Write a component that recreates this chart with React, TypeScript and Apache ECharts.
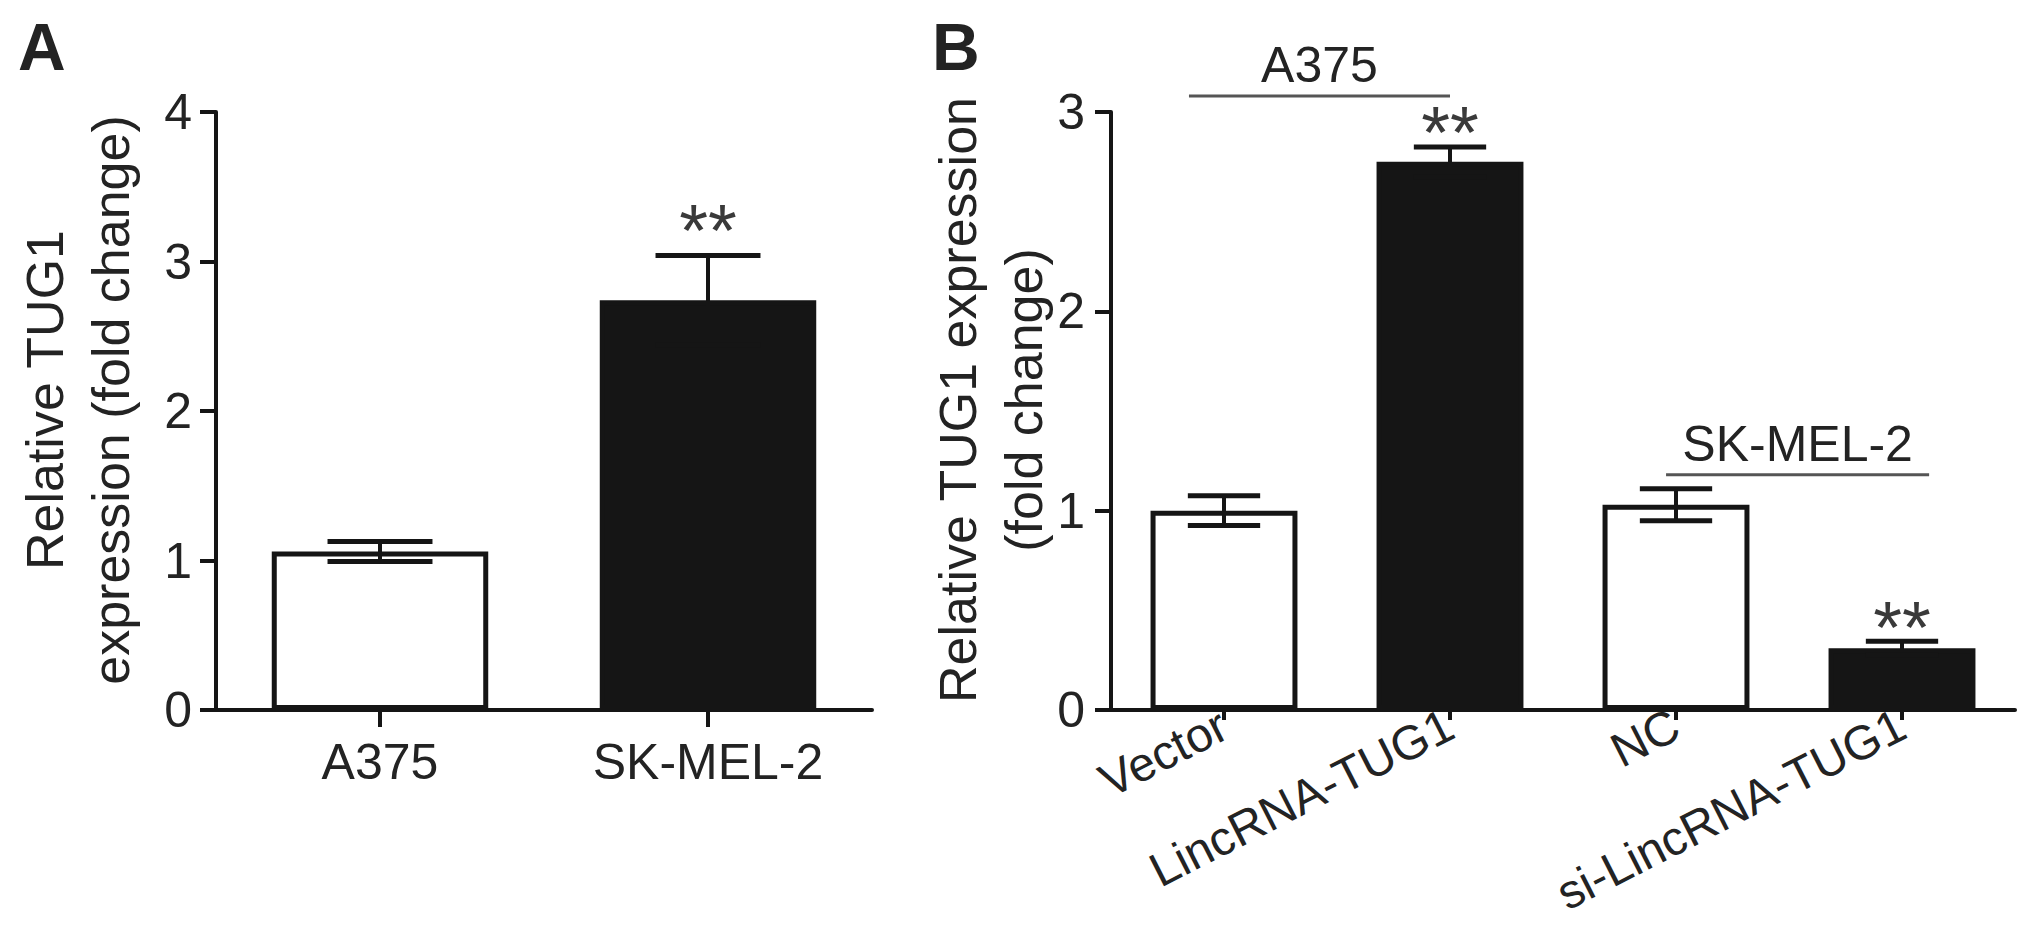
import React, { useEffect, useRef } from 'react';
import * as echarts from 'echarts';

// ---------- data ----------
const categoriesA = ['A375', 'SK-MEL-2'];
const meansA = [1.06, 2.74];
const errorsA = [0.067, 0.3];
const signifA = ['', '**'];

const categoriesB = ['Vector', 'LincRNA-TUG1', 'NC', 'si-LincRNA-TUG1'];
const meansB = [1.0, 2.75, 1.03, 0.31];
const errorsB = [0.075, 0.075, 0.08, 0.035];
const signifB = ['', '**', '', '**'];

const groupLabels = ['A375', 'SK-MEL-2'];
const groupStart = [0, 2];
const groupEnd = [1, 3];
const groupLevels = [3.08, 1.18];

const yMaxA = 4;
const yMaxB = 3;
const yInterval = 1;

const titleA = 'Relative TUG1\nexpression (fold change)';
const titleB = 'Relative TUG1 expression\n(fold change)';

// ---------- style ----------
const FONT = "'Liberation Sans', Arial, Helvetica, sans-serif";
const INK = '#151515';
const TEXT = '#232323';
// bracket offsets in fractions of a category band (start, end)
const bracketOffsets = [
  [-0.155, 0.0],
  [-0.044, 0.12],
];

export default function App() {
  const ref = useRef<HTMLDivElement>(null);

  useEffect(() => {
    const chart = echarts.init(ref.current as HTMLDivElement, null, { renderer: 'svg' });

    const makeErr = (signif: string[], sigLift: number) => (params: any, api: any) => {
      const x = api.value(0);
      const m = api.value(1);
      const e = api.value(2);
      const top = api.coord([x, m + e]);
      const bot = api.coord([x, m - e]);
      const band = api.size([1, 0])[0];
      const hw = band * 0.16;
      const st = { stroke: INK, lineWidth: 5 };
      const children: any[] = [
        { type: 'line', shape: { x1: top[0], y1: top[1], x2: bot[0], y2: bot[1] }, style: { stroke: INK, lineWidth: 4 } },
        { type: 'line', shape: { x1: top[0] - hw, y1: top[1], x2: top[0] + hw, y2: top[1] }, style: st },
        { type: 'line', shape: { x1: bot[0] - hw, y1: bot[1], x2: bot[0] + hw, y2: bot[1] }, style: st },
      ];
      const s = signif[params.dataIndex];
      if (s) {
        children.push({
          type: 'text',
          x: top[0],
          y: top[1] - sigLift,
          style: { text: s, fontSize: 74, fontFamily: FONT, fill: '#3a3a3a', align: 'center', verticalAlign: 'middle' },
        });
      }
      return { type: 'group', children };
    };

    const bracketRender = (params: any, api: any) => {
      const i = params.dataIndex;
      const p1 = api.coord([api.value(0), api.value(2)]);
      const p2 = api.coord([api.value(1), api.value(2)]);
      const band = api.size([1, 0])[0];
      const x1 = p1[0] + bracketOffsets[i][0] * band;
      const x2 = p2[0] + bracketOffsets[i][1] * band;
      return {
        type: 'group',
        children: [
          { type: 'line', shape: { x1, y1: p1[1], x2, y2: p1[1] }, style: { stroke: '#555', lineWidth: 3 } },
          {
            type: 'text',
            x: (x1 + x2) / 2,
            y: p1[1] - 6,
            style: { text: groupLabels[i], fontSize: 50, fontFamily: FONT, fill: TEXT, align: 'center', verticalAlign: 'bottom' },
          },
        ],
      };
    };

    const axisLine = { show: true, lineStyle: { color: INK, width: 4 } };
    const axisTick = (len: number) => ({ show: true, length: len, lineStyle: { color: INK, width: 4 } });

    const yAxisCommon = (max: number, name: string, nameGap: number, labelMargin: number) => ({
      type: 'value',
      min: 0,
      max,
      interval: yInterval,
      axisLine,
      axisTick: axisTick(16),
      splitLine: { show: false },
      axisLabel: { fontSize: 50, fontFamily: FONT, color: TEXT, margin: labelMargin },
      name,
      nameLocation: 'middle',
      nameGap,
      nameRotate: 90,
      nameMoveOverlap: false,
      nameTextStyle: { fontSize: 52, fontFamily: FONT, color: TEXT, lineHeight: 66, align: 'center', padding: [0, 0, 0, 22] },
    });

    const barData = (vals: number[]) =>
      vals.map((v, i) => ({ value: v, itemStyle: { color: i % 2 === 1 ? INK : '#ffffff' } }));

    chart.setOption({
      animation: false,
      backgroundColor: '#ffffff',
      grid: [
        { left: 216, top: 112, width: 656, height: 598, outerBoundsMode: 'none', containLabel: false },
        { left: 1111, top: 112, width: 904, height: 598, outerBoundsMode: 'none', containLabel: false },
      ],
      xAxis: [
        {
          type: 'category',
          gridIndex: 0,
          data: categoriesA,
          axisLine,
          axisTick: { ...axisTick(17), alignWithLabel: true },
          axisLabel: { fontSize: 50, fontFamily: FONT, color: TEXT, margin: 27, interval: 0 },
        },
        {
          type: 'category',
          gridIndex: 1,
          data: categoriesB,
          axisLine,
          axisTick: { ...axisTick(10), alignWithLabel: true },
          axisLabel: { fontSize: 48, fontFamily: FONT, color: TEXT, margin: 12, rotate: 27, interval: 0 },
        },
      ],
      yAxis: [
        { ...yAxisCommon(yMaxA, titleA, 72, 24), gridIndex: 0 },
        { ...yAxisCommon(yMaxB, titleB, 54, 26), gridIndex: 1 },
      ],
      series: [
        {
          type: 'bar',
          xAxisIndex: 0,
          yAxisIndex: 0,
          data: barData(meansA),
          barWidth: '66%',
          itemStyle: { borderColor: INK, borderWidth: 5 },
        },
        {
          type: 'custom',
          xAxisIndex: 0,
          yAxisIndex: 0,
          z: 5,
          renderItem: makeErr(signifA, 25),
          encode: { x: 0, y: 1 },
          data: categoriesA.map((_, i) => [i, meansA[i], errorsA[i]]),
        },
        {
          type: 'bar',
          xAxisIndex: 1,
          yAxisIndex: 1,
          data: barData(meansB),
          barWidth: '65%',
          itemStyle: { borderColor: INK, borderWidth: 5 },
        },
        {
          type: 'custom',
          xAxisIndex: 1,
          yAxisIndex: 1,
          z: 5,
          renderItem: makeErr(signifB, 14),
          encode: { x: 0, y: 1 },
          data: categoriesB.map((_, i) => [i, meansB[i], errorsB[i]]),
        },
        {
          type: 'custom',
          xAxisIndex: 1,
          yAxisIndex: 1,
          z: 5,
          clip: false,
          renderItem: bracketRender,
          encode: { x: [0, 1], y: 2 },
          data: groupLabels.map((_, i) => [groupStart[i], groupEnd[i], groupLevels[i]]),
        },
      ],
      graphic: [
        { type: 'text', left: 18, top: 14, style: { text: 'A', fontSize: 66, fontWeight: 'bold', fontFamily: FONT, fill: TEXT } },
        { type: 'text', left: 932, top: 14, style: { text: 'B', fontSize: 66, fontWeight: 'bold', fontFamily: FONT, fill: TEXT } },
      ],
    });

    return () => chart.dispose();
  }, []);

  return <div ref={ref} style={{ position: 'absolute', left: 0, top: 0, width: 2031, height: 932, background: '#fff' }} />;
}
